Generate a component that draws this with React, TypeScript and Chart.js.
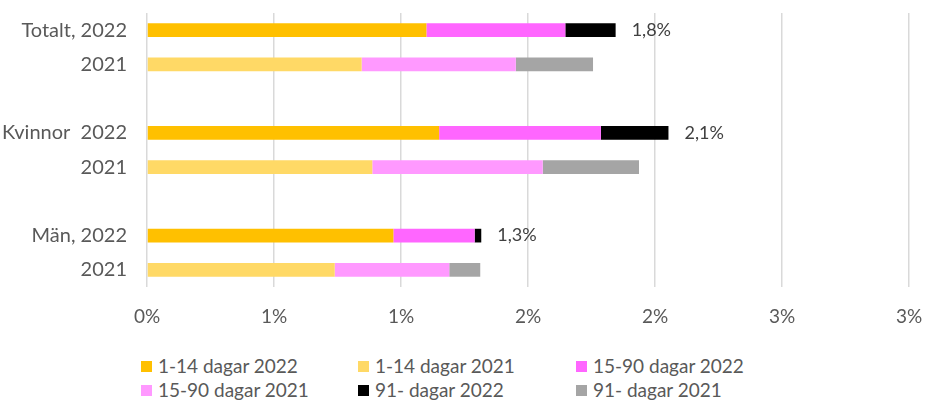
import React, { useEffect, useRef } from "react";
import { Chart, registerables } from "chart.js";

Chart.register(...registerables);

const categories = ["Totalt, 2022", "2021", "", "Kvinnor  2022", "2021", "", "Män, 2022", "2021"];
const seriesNames = [
  "1-14 dagar 2022",
  "1-14 dagar 2021",
  "15-90 dagar 2022",
  "15-90 dagar 2021",
  "91- dagar 2022",
  "91- dagar 2021",
];
const d1_14_2022 = [1.10, null, null, 1.15, null, null, 0.97, null];
const d1_14_2021 = [null, 0.845, null, null, 0.887, null, null, 0.739];
const d15_90_2022 = [0.547, null, null, 0.637, null, null, 0.32, null];
const d15_90_2021 = [null, 0.607, null, null, 0.671, null, null, 0.451];
const d91_2022 = [0.198, null, null, 0.266, null, null, 0.026, null];
const d91_2021 = [null, 0.304, null, null, 0.379, null, null, 0.122];
const totalLabels = ["1,8%", "", "", "2,1%", "", "", "1,3%", ""];
const xTicks = [0, 0.5, 1, 1.5, 2, 2.5, 3];
const colors = ["#FFC000", "#FFD966", "#FF66FF", "#FF99FF", "#000000", "#A5A5A5"];

const FONT = "Lato, 'Open Sans', sans-serif";

const totalLabelPlugin = {
  id: "totalLabels",
  afterDatasetsDraw(chart: any) {
    const ctx = chart.ctx;
    const xs = chart.scales.x;
    const ys = chart.scales.y;
    ctx.save();
    ctx.font = `18px ${FONT}`;
    ctx.fillStyle = "#404040";
    ctx.textAlign = "left";
    ctx.textBaseline = "middle";
    totalLabels.forEach((lab, i) => {
      if (!lab) return;
      let sum = 0;
      chart.data.datasets.forEach((ds: any) => {
        const v = ds.data[i];
        if (typeof v === "number") sum += v;
      });
      const x = xs.getPixelForValue(sum) + 16;
      const y = ys.getPixelForValue(i);
      ctx.fillText(lab, x, y);
    });
    ctx.restore();
  },
};

export default function App() {
  const ref = useRef<HTMLCanvasElement | null>(null);
  useEffect(() => {
    document.body.style.margin = "0";
    const seriesData = [d1_14_2022, d1_14_2021, d15_90_2022, d15_90_2021, d91_2022, d91_2021];
    const chart = new Chart(ref.current as HTMLCanvasElement, {
      type: "bar",
      data: {
        labels: categories,
        datasets: seriesData.map((d, k) => ({
          label: seriesNames[k],
          data: d as any,
          backgroundColor: colors[k],
          borderWidth: 0,
          barPercentage: 1,
          categoryPercentage: 0.4,
        })),
      },
      options: {
        indexAxis: "y",
        animation: false,
        responsive: false,
        maintainAspectRatio: false,
        layout: { padding: { top: 13, right: 16, left: 0, bottom: 0 } },
        plugins: {
          legend: { display: false },
          tooltip: { enabled: false },
        },
        scales: {
          x: {
            stacked: true,
            min: 0,
            max: 3,
            afterBuildTicks: (scale: any) => {
              scale.ticks = xTicks.map((v) => ({ value: v }));
            },
            afterFit: (scale: any) => {
              scale.height = 53;
              scale.paddingLeft = 0;
              scale.paddingRight = 0;
            },
            ticks: {
              padding: 18,
              color: "#595959",
              font: { family: FONT, size: 19 },
              callback: (v: any) => Math.round(Number(v)) + "%",
              maxRotation: 0,
            },
            grid: { color: "#D9D9D9", lineWidth: 1.5, drawTicks: false },
            border: { display: false },
          },
          y: {
            stacked: true,
            afterFit: (scale: any) => {
              scale.width = 147;
              scale.paddingTop = 0;
              scale.paddingBottom = 0;
            },
            ticks: {
              padding: 20,
              color: "#595959",
              font: { family: FONT, size: 20 },
              autoSkip: false,
            },
            grid: { display: false, drawTicks: false },
            border: { display: false },
          },
        },
      },
      plugins: [totalLabelPlugin],
    });
    return () => chart.destroy();
  }, []);

  const legendPos = [
    [141, 354],
    [358, 354],
    [576, 354],
    [141, 378],
    [358, 378],
    [576, 378],
  ];

  return (
    <div style={{ position: "relative", width: 925, height: 401, background: "#fff", fontFamily: FONT, overflow: "hidden" }}>
      <canvas ref={ref} width={925} height={340} style={{ position: "absolute", left: 0, top: 0 }} />
      {seriesNames.map((name, k) => (
        <div
          key={name}
          style={{
            position: "absolute",
            left: legendPos[k][0],
            top: legendPos[k][1],
            height: 24,
            lineHeight: "24px",
            display: "flex",
            alignItems: "center",
            whiteSpace: "nowrap",
            color: "#595959",
            fontSize: 19,
          }}
        >
          <span style={{ display: "inline-block", width: 11, height: 11, background: colors[k], marginRight: 6 }} />
          <span>{name}</span>
        </div>
      ))}
    </div>
  );
}
